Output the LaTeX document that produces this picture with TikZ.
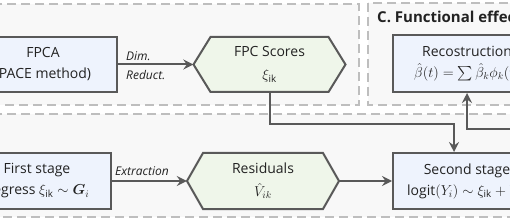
\documentclass[tikz,border=0pt]{standalone}
\usepackage{amsmath}
\usepackage{fontspec}
\setmainfont{Open Sans}
\usetikzlibrary{arrows.meta,calc}
\definecolor{boxblue}{HTML}{EEF3FD}
\definecolor{hexgreen}{HTML}{EFF6EA}
\definecolor{bordc}{HTML}{595959}
\definecolor{panelc}{HTML}{F8F8F8}
\definecolor{dashc}{HTML}{BEBEBE}
\definecolor{txt}{HTML}{222222}
\begin{document}
\begin{tikzpicture}[x=1pt,y=-1pt,
  box/.style={draw=bordc, line width=2pt, fill=boxblue, minimum width=148pt, minimum height=55pt,
    align=center, inner sep=0pt, font=\fontsize{14}{21}\selectfont, text=txt},
  hexn/.style={minimum width=118pt, minimum height=55pt, inner sep=0pt, align=center,
    font=\fontsize{14}{23}\selectfont, text=txt},
  hexline/.style={draw=bordc, line width=2pt, fill=hexgreen, line join=miter},
  conn/.style={draw=bordc, line width=2pt, -{Stealth[length=10pt,width=10pt,inset=3.5pt]}},
  panelbox/.style={fill=panelc, draw=dashc, line width=1.5pt, dash pattern=on 9pt off 5pt},
  lbl/.style={font=\itshape\fontsize{12}{14}\selectfont, text=txt, inner sep=0pt}]
\useasboundingbox (0,0) rectangle (510,221);
\clip (0,0) rectangle (510,221);
\fill[white] (0,0) rectangle (510,221);
% panels
\path[panelbox] (-20,4) rectangle (359,105);
\path[panelbox] (368,3) rectangle (560,105);
\path[panelbox] (-20,114) rectangle (560,217);
\node[font=\bfseries\fontsize{15}{17}\selectfont, text=txt, anchor=west, inner sep=0pt] (ttl) at (377,17) {C. Functional effects};
% hexagon shapes
\coordinate (fpcsc) at (269.5,64.5);
\coordinate (residc) at (263,181);
\draw[hexline] (fpcsc) ++(-76,0) -- ++(17,-27.5) -- ++(118,0) -- ++(17,27.5) -- ++(-17,27.5) -- ++(-118,0) -- cycle;
\draw[hexline] (residc) ++(-76,0) -- ++(16,-28) -- ++(120,0) -- ++(16,28) -- ++(-16,28) -- ++(-120,0) -- cycle;
% nodes
\node[box] (fpca) at (43,64.5) {FPCA\\(PACE method)};
\node[hexn] (fpcs) at (fpcsc) {FPC Scores\\$\xi_{\text{ik}}$};
\node[box, minimum height=57pt] (rec) at (467,63.5) {Recostruction\\$\hat{\beta}(t)=\sum\hat{\beta}_k\phi_k(t)$};
\node[box, minimum height=56pt] (first) at (37,181) {First stage\\Regress $\xi_{\text{ik}}\sim\boldsymbol{G}_i$};
\node[hexn, minimum width=120pt, minimum height=56pt] (resid) at (residc) {Residuals\\$\hat{V}_{ik}$};
\node[box, minimum height=56pt] (sec) at (467,181) {Second stage\\$\mathrm{logit}(Y_i)\sim\xi_{\text{ik}}+\hat{V}_{ik}$};
% connectors
\draw[conn] (fpca.east) -- ([xshift=-17pt]fpcs.west);
\node[lbl, anchor=west] (dim) at (126,56) {Dim.};
\node[lbl, anchor=west] (red) at (126,75) {Reduct.};
\draw[conn] (fpcs.south) -- ++(0,31.5) -| ([xshift=62pt]sec.north west);
\coordinate (offr) at (530,129);
\draw[conn] (offr) -| ([xshift=75pt]rec.south west);
\draw[conn] (first.east) -- ([xshift=-16pt]resid.west);
\node[lbl, anchor=west] (ext) at (115,171) {Extraction};
\draw[conn] ([xshift=16pt]resid.east) -- (sec.west);
\end{tikzpicture}
\end{document}
